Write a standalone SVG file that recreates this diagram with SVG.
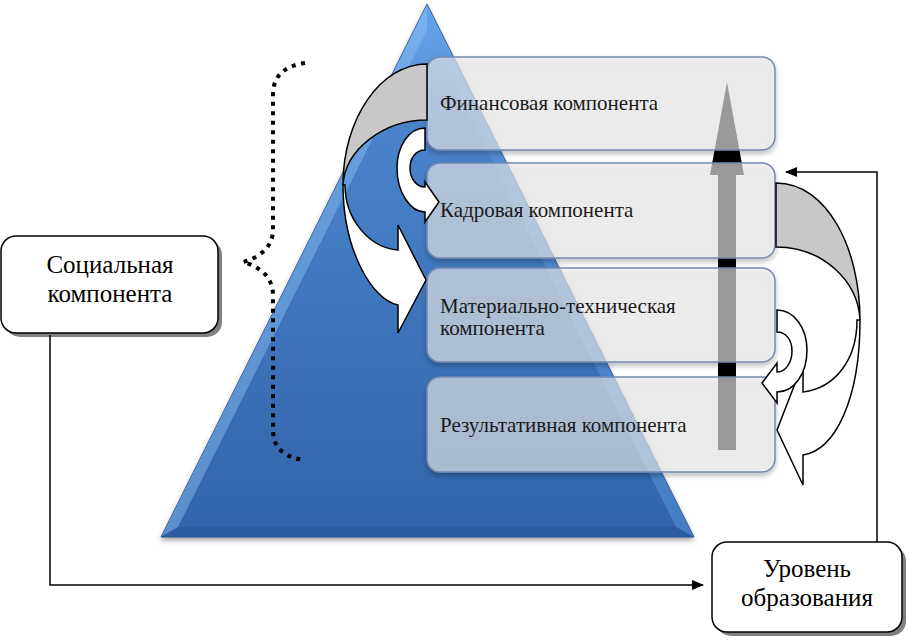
<svg xmlns="http://www.w3.org/2000/svg" width="911" height="644" viewBox="0 0 911 644">
<style>
.t{font-family:"Liberation Serif","Times New Roman",serif;fill:#1a1a1a}
.bt{font-size:21px}
.st{font-size:25px;fill:#000}
.box{fill:#efefef;fill-opacity:0.6;stroke:#7489b0;stroke-width:1.5}
.node{fill:#fff;stroke:#000;stroke-width:1.5}
.shadow{fill:#808080}
.ca{stroke:#000;stroke-width:1.5;stroke-linejoin:miter}
.conn{fill:none;stroke:#000;stroke-width:1.5}
.brace{fill:none;stroke:#000;stroke-width:4;stroke-dasharray:4 5.5}
</style>
<defs>
<linearGradient id="tri" x1="0" y1="0" x2="0" y2="1">
<stop offset="0" stop-color="#6eaaf0"/>
<stop offset="0.22" stop-color="#4a84cb"/>
<stop offset="1" stop-color="#3163aa"/>
</linearGradient>
<filter id="sh" x="-10%" y="-10%" width="120%" height="130%">
<feDropShadow dx="0" dy="3" stdDeviation="2.5" flood-color="#000" flood-opacity="0.35"/>
</filter>
<marker id="ah" markerWidth="12" markerHeight="10" refX="11" refY="5" orient="auto" markerUnits="userSpaceOnUse">
<path d="M0,0 L12,5 L0,10 Z" fill="#000"/>
</marker>
</defs>
<rect width="911" height="644" fill="#fff"/>

<g id="pyramid">
<polygon points="427,4 694,537 161,537" fill="url(#tri)" stroke="#2a5088" stroke-width="1" filter="url(#sh)"/>
<polygon points="427,4 161,537 178,527 427,30" fill="#8cc0f5" fill-opacity="0.45"/>
<polygon points="427,4 694,537 676,527 427,30" fill="#5d9de2" fill-opacity="0.45"/>
<polygon points="161,537 694,537 676,527 178,527" fill="#2a5899" fill-opacity="0.6"/>
</g>

<g id="growth-arrow">
<polygon points="727,82 744,175 736,175 736,450 718,450 718,175 710,175" fill="#000"/>
</g>

<g id="financial">
<rect class="box" x="427" y="57" width="348" height="93" rx="13" filter="url(#sh)"/>
<text class="t bt" x="440" y="110">Финансовая компонента</text>
</g>
<g id="personnel">
<rect class="box" x="427" y="163" width="348" height="95" rx="13" filter="url(#sh)"/>
<text class="t bt" x="440" y="217">Кадровая компонента</text>
</g>
<g id="material">
<rect class="box" x="427" y="268" width="348" height="94" rx="13" filter="url(#sh)"/>
<text class="t bt" x="440" y="313">Материально-техническая</text>
<text class="t bt" x="440" y="335">компонента</text>
</g>
<g id="result">
<rect class="box" x="427" y="377" width="348" height="95" rx="13" filter="url(#sh)"/>
<text class="t bt" x="440" y="432">Результативная компонента</text>
</g>

<g id="curved-arrows">
<path class="ca" fill="#c8c8c8" d="M427,64 C381,64 343,118 343,185 C345,150 383,120 427,120 Z"/>
<path class="ca" fill="#fff" d="M343,185 C343,250 372,300 398,305 L398,333 L426,280 L398,225 L398,250 C370,248 345,220 345,185 Z"/>
<path class="ca" fill="#fff" d="M425,128 C409,128 397,146 397,168 C397,192 410,212 425,212 L425,222 L439,202 L425,182 L425,187 C416,187 410,178 410,168 C410,158 416,150 425,150 Z"/>
<path class="ca" fill="#c8c8c8" d="M776,183 C828,183 860,250 860,320 C858,280 822,247 776,247 Z"/>
<path class="ca" fill="#fff" d="M860,320 C860,400 835,450 803,455 L803,485 L777,430 L803,363 L803,392 C835,388 857,360 857,320 Z"/>
<path class="ca" fill="#fff" d="M777,310 C794,310 807,328 807,350 C807,374 794,392 777,392 L777,403 L762,383 L777,363 L777,372 C786,372 792,362 792,351 C792,340 786,332 777,332 Z"/>
</g>

<g id="brace">
<path class="brace" d="M305,63 C285,66 273,75 273,95 L273,230 C273,248 258,258 243,262 C258,266 273,276 273,295 L273,430 C273,448 285,458 305,460"/>
</g>

<g id="social">
<rect class="shadow" x="5" y="240" width="217" height="97" rx="15"/>
<rect class="node" x="1" y="236" width="217" height="97" rx="15"/>
<text class="t st" x="110" y="273" text-anchor="middle">Социальная</text>
<text class="t st" x="110" y="302" text-anchor="middle">компонента</text>
</g>

<g id="level">
<rect class="shadow" x="716" y="546" width="190" height="90" rx="15"/>
<rect class="node" x="712" y="542" width="190" height="90" rx="15"/>
<text class="t st" x="807" y="577" text-anchor="middle">Уровень</text>
<text class="t st" x="807" y="606" text-anchor="middle">образования</text>
</g>

<g id="connectors">
<path class="conn" d="M50,335 L50,585 L703,585" marker-end="url(#ah)"/>
<path class="conn" d="M877,542 L877,172 L786,172" marker-end="url(#ah)"/>
</g>
</svg>
